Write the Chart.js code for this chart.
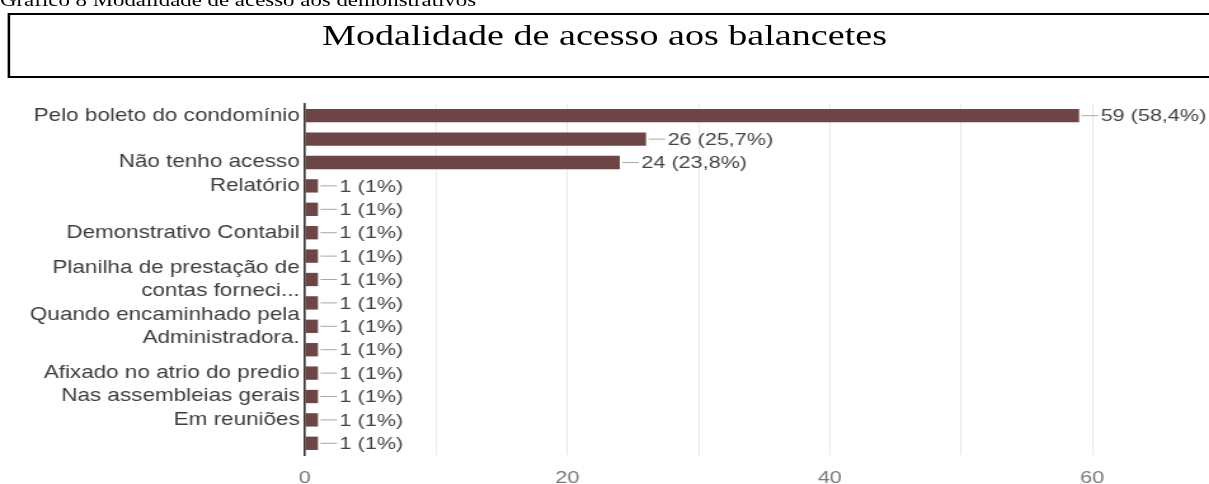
<!DOCTYPE html>
<html lang="pt">
<head>
  <meta charset="UTF-8">
  <title>Modalidade de acesso aos balancetes</title>
  <script src="https://cdn.jsdelivr.net/npm/chart.js"></script>
  <style>
    body { margin: 0; background: #fff; overflow: hidden; }
    /* the original picture is stretched sideways, so the whole page is too */
    #page { position: relative; width: 952px; height: 484px; transform: scaleX(1.27); transform-origin: 0 0; }
    .caption { position: absolute; left: 0; top: -9px; font: 18px/18px "Liberation Serif", "Times New Roman", serif; color: #000; white-space: nowrap; }
    .box { position: absolute; left: 6px; top: 13px; width: 1000px; height: 61px; border: 2px solid #000; }
    .title { position: absolute; left: 0; top: 20px; width: 952px; text-align: center; font: 30px/30px "Liberation Serif", "Times New Roman", serif; color: #000; }
    #chart { position: absolute; left: 0; top: 0; }
  </style>
</head>
<body>
  <div id="page">
    <div class="caption">Gráfico 8 Modalidade de acesso aos demonstrativos</div>
    <div class="box"></div>
    <div class="title">Modalidade de acesso aos balancetes</div>
    <canvas id="chart" width="952" height="484"></canvas>
  </div>

  <script>
    // Categories (blank ones had their label skipped in the original)
    const categories = [
      'Pelo boleto do condomínio',
      '',
      'Não tenho acesso',
      'Relatório',
      '',
      'Demonstrativo Contabil',
      '',
      ['Planilha de prestação de', 'contas forneci...'],
      '',
      ['Quando encaminhado pela', 'Administradora.'],
      '',
      'Afixado no atrio do predio',
      'Nas assembleias gerais',
      'Em reuniões',
      ''
    ];
    const counts = [59, 26, 24, 1, 1, 1, 1, 1, 1, 1, 1, 1, 1, 1, 1];
    const percents = ['58,4%', '25,7%', '23,8%', '1%', '1%', '1%', '1%', '1%', '1%', '1%', '1%', '1%', '1%', '1%', '1%'];
    const xTicks = [0, 20, 40, 60];

    const barColor = '#6d4545';
    const labelFont = '"Liberation Sans", Arial, sans-serif';

    // Draws the "—26 (25,7%)" labels at the end of each bar
    const valueLabels = {
      id: 'valueLabels',
      afterDatasetsDraw(chart) {
        const ctx = chart.ctx;
        const meta = chart.getDatasetMeta(0);
        meta.data.forEach((bar, i) => {
          ctx.save();
          ctx.strokeStyle = '#a8a8a8';
          ctx.lineWidth = 1;
          ctx.beginPath();
          ctx.moveTo(bar.x + 2, bar.y);
          ctx.lineTo(bar.x + 15, bar.y);
          ctx.stroke();
          ctx.fillStyle = '#444444';
          ctx.font = '17px ' + labelFont;
          ctx.textBaseline = 'middle';
          ctx.fillText(counts[i] + ' (' + percents[i] + ')', bar.x + 17, bar.y + 1);
          ctx.restore();
        });
      }
    };

    const ctx = document.getElementById('chart').getContext('2d');
    const chart = new Chart(ctx, {
      type: 'bar',
      data: {
        labels: categories,
        datasets: [{
          data: counts,
          backgroundColor: barColor,
          borderWidth: 0,
          categoryPercentage: 1,
          barPercentage: 0.57
        }]
      },
      options: {
        indexAxis: 'y',
        responsive: false,
        animation: false,
        layout: { padding: { top: 104, right: 92, bottom: 0, left: 0 } },
        plugins: {
          legend: { display: false },
          tooltip: { enabled: false }
        },
        scales: {
          x: {
            min: xTicks[0],
            max: xTicks[xTicks.length - 1],
            ticks: {
              stepSize: 10,
              padding: 13,
              color: '#777777',
              font: { family: labelFont, size: 17 },
              maxRotation: 0,
              callback: v => xTicks.includes(v) ? v : ''
            },
            grid: { color: '#e9e9e9', drawTicks: false },
            border: { display: false },
            afterFit: scale => { scale.height = 29; }
          },
          y: {
            ticks: {
              autoSkip: false,
              padding: 4,
              color: '#3c3c3c',
              font: { family: labelFont, size: 17.7, lineHeight: 1.3 }
            },
            grid: { display: false, drawTicks: false },
            border: { display: true, color: '#333333', width: 1.6 },
            afterFit: scale => { scale.width = 240; }
          }
        }
      },
      plugins: [valueLabels]
    });
  </script>
</body>
</html>
